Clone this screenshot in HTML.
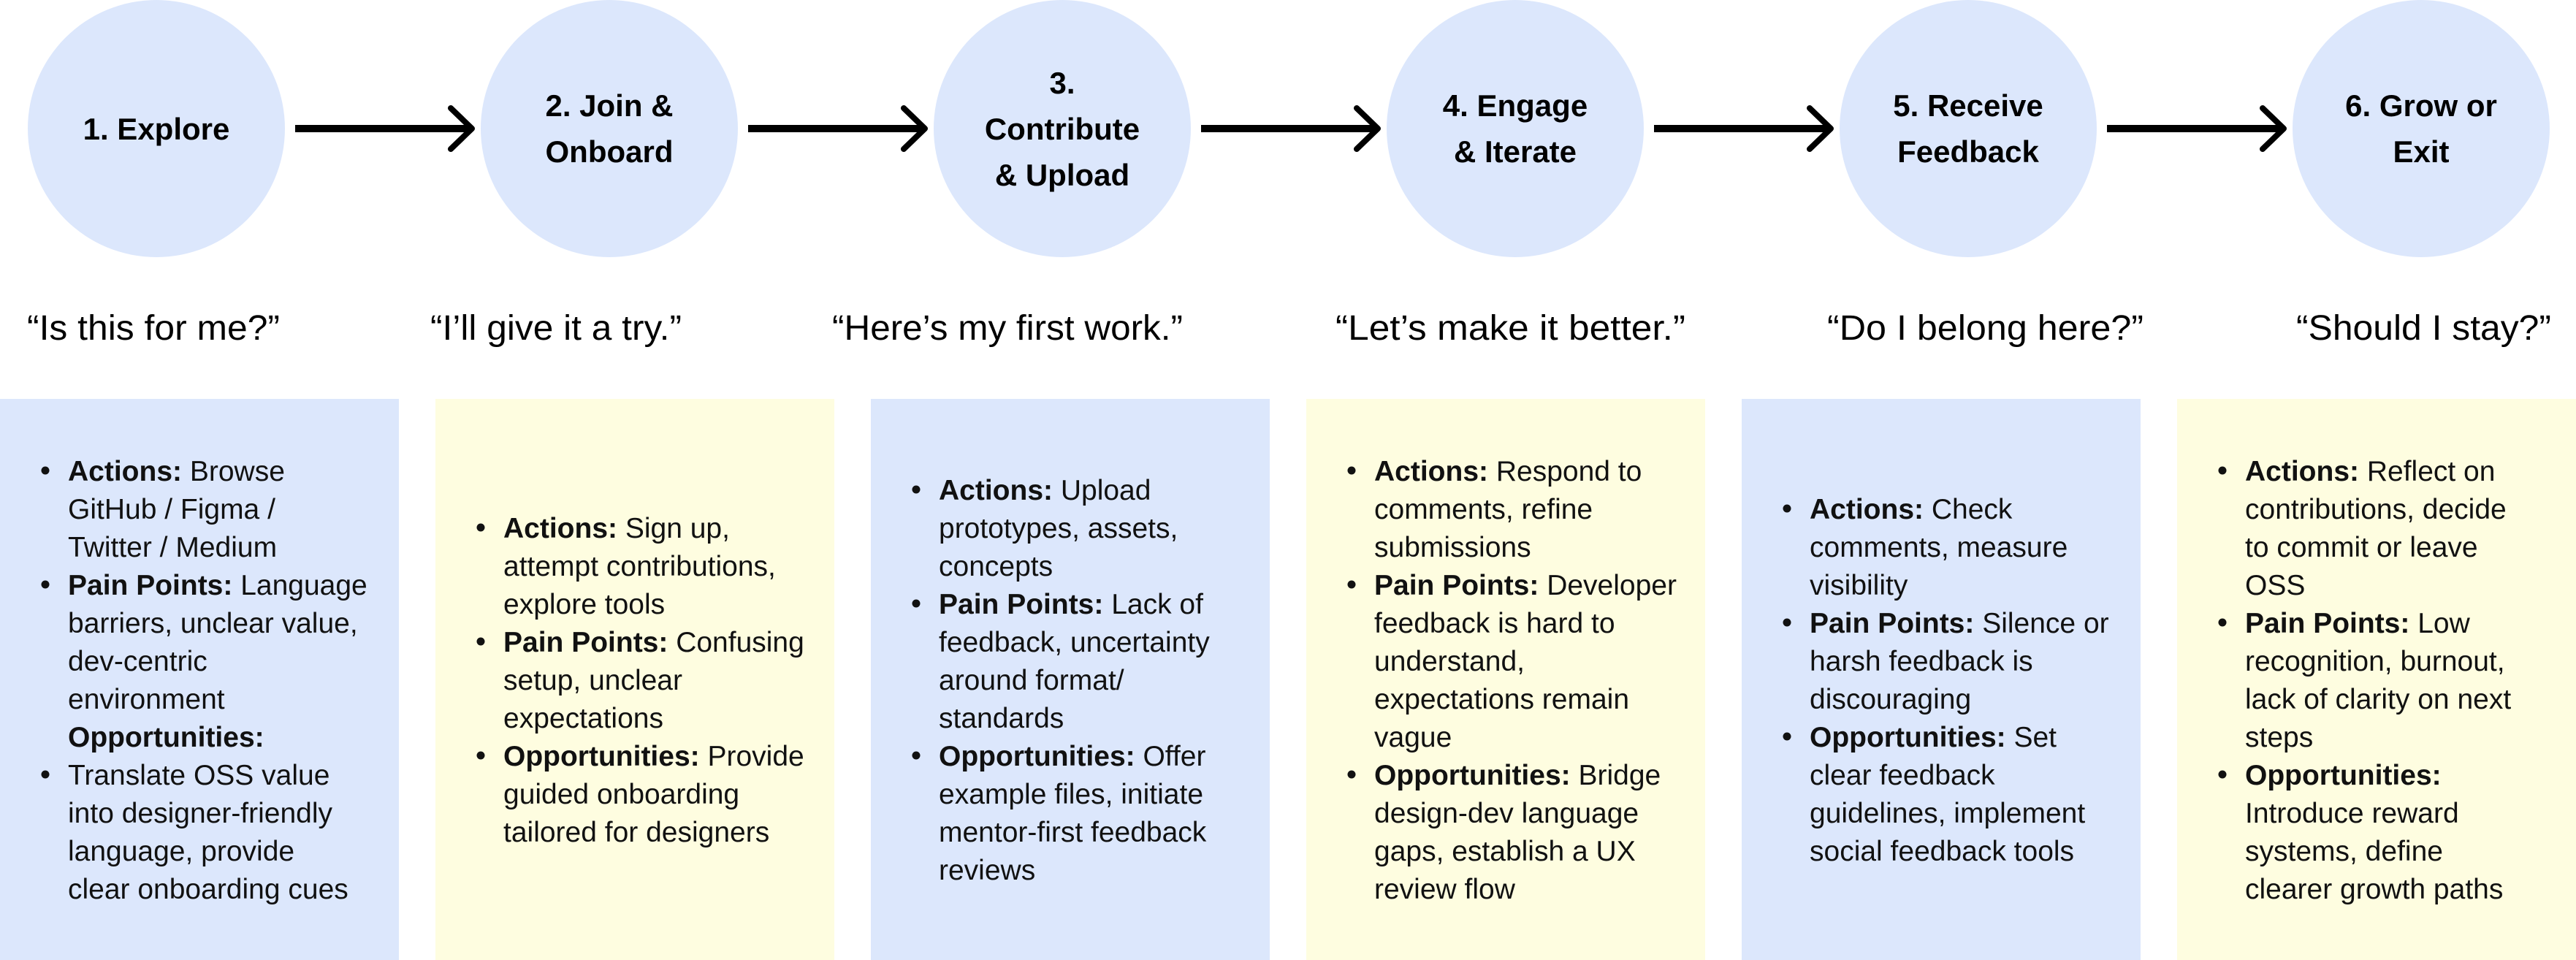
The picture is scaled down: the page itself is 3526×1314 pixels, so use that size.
<!DOCTYPE html>
<html><head><meta charset="utf-8"><style>
html,body{margin:0;padding:0;background:#fff;}
svg{display:block;}
.c{font-family:"Liberation Sans",sans-serif;font-weight:bold;font-size:42px;fill:#000;}
.q{font-family:"Liberation Sans",sans-serif;font-size:48px;fill:#000;}
.t{font-family:"Liberation Sans",sans-serif;font-size:39px;fill:#111;}
.b{font-weight:bold;}
</style></head><body>
<svg width="3526" height="1314" viewBox="0 0 3526 1314" xmlns="http://www.w3.org/2000/svg">
<g fill="#DCE7FC">
<circle cx="214" cy="176" r="176"/><circle cx="834" cy="176" r="176"/><circle cx="1454" cy="176" r="176"/>
<circle cx="2074" cy="176" r="176"/><circle cx="2694" cy="176" r="176"/><circle cx="3314" cy="176" r="176"/>
</g>
<g stroke="#000" fill="none" stroke-linecap="round" stroke-linejoin="round">
<g id="ar"><line x1="404" y1="176" x2="644" y2="176" stroke-width="10" stroke-linecap="butt"/><polyline points="617,148 646,176 617,204" stroke-width="8"/></g>
<use href="#ar" x="620"/><use href="#ar" x="1240"/><use href="#ar" x="1860"/><use href="#ar" x="2480"/>
</g>
<g class="c" text-anchor="middle">
<text x="214" y="191">1. Explore</text>
<text x="834" y="159">2. Join &amp;</text><text x="834" y="222">Onboard</text>
<text x="1454" y="128">3.</text><text x="1454" y="191">Contribute</text><text x="1454" y="254">&amp; Upload</text>
<text x="2074" y="159">4. Engage</text><text x="2074" y="222">&amp; Iterate</text>
<text x="2694" y="159">5. Receive</text><text x="2694" y="222">Feedback</text>
<text x="3314" y="159">6. Grow or</text><text x="3314" y="222">Exit</text>
</g>
<g class="q">
<text x="37" y="465" textLength="346" lengthAdjust="spacingAndGlyphs">“Is this for me?”</text>
<text x="589" y="465" textLength="344" lengthAdjust="spacingAndGlyphs">“I’ll give it a try.”</text>
<text x="1139" y="465" textLength="480" lengthAdjust="spacingAndGlyphs">“Here’s my first work.”</text>
<text x="1828" y="465" textLength="479" lengthAdjust="spacingAndGlyphs">“Let’s make it better.”</text>
<text x="2501" y="465" textLength="433" lengthAdjust="spacingAndGlyphs">“Do I belong here?”</text>
<text x="3143" y="465" textLength="349" lengthAdjust="spacingAndGlyphs">“Should I stay?”</text>
</g>
<rect x="0" y="546" width="546" height="768" fill="#DCE7FC"/>
<rect x="596" y="546" width="546" height="768" fill="#FEFDE0"/>
<rect x="1192" y="546" width="546" height="768" fill="#DCE7FC"/>
<rect x="1788" y="546" width="546" height="768" fill="#FEFDE0"/>
<rect x="2384" y="546" width="546" height="768" fill="#DCE7FC"/>
<rect x="2980" y="546" width="546" height="768" fill="#FEFDE0"/>

<g class="t" transform="translate(0,0)">
<circle cx="62" cy="644" r="5.5" fill="#111"/><circle cx="62" cy="800" r="5.5" fill="#111"/><circle cx="62" cy="1060" r="5.5" fill="#111"/>
<text x="93" y="658"><tspan class="b">Actions:</tspan> Browse</text>
<text x="93" y="710">GitHub / Figma /</text>
<text x="93" y="762">Twitter / Medium</text>
<text x="93" y="814"><tspan class="b">Pain Points:</tspan> Language</text>
<text x="93" y="866">barriers, unclear value,</text>
<text x="93" y="918">dev-centric</text>
<text x="93" y="970">environment</text>
<text x="93" y="1022"><tspan class="b">Opportunities:</tspan></text>
<text x="93" y="1074">Translate OSS value</text>
<text x="93" y="1126">into designer-friendly</text>
<text x="93" y="1178">language, provide</text>
<text x="93" y="1230">clear onboarding cues</text>
</g>
<g class="t" transform="translate(596,0)">
<circle cx="62" cy="722" r="5.5" fill="#111"/><circle cx="62" cy="878" r="5.5" fill="#111"/><circle cx="62" cy="1034" r="5.5" fill="#111"/>
<text x="93" y="736"><tspan class="b">Actions:</tspan> Sign up,</text>
<text x="93" y="788">attempt contributions,</text>
<text x="93" y="840">explore tools</text>
<text x="93" y="892"><tspan class="b">Pain Points:</tspan> Confusing</text>
<text x="93" y="944">setup, unclear</text>
<text x="93" y="996">expectations</text>
<text x="93" y="1048"><tspan class="b">Opportunities:</tspan> Provide</text>
<text x="93" y="1100">guided onboarding</text>
<text x="93" y="1152">tailored for designers</text>
</g>
<g class="t" transform="translate(1192,0)">
<circle cx="62" cy="670" r="5.5" fill="#111"/><circle cx="62" cy="826" r="5.5" fill="#111"/><circle cx="62" cy="1034" r="5.5" fill="#111"/>
<text x="93" y="684"><tspan class="b">Actions:</tspan> Upload</text>
<text x="93" y="736">prototypes, assets,</text>
<text x="93" y="788">concepts</text>
<text x="93" y="840"><tspan class="b">Pain Points:</tspan> Lack of</text>
<text x="93" y="892">feedback, uncertainty</text>
<text x="93" y="944">around format/</text>
<text x="93" y="996">standards</text>
<text x="93" y="1048"><tspan class="b">Opportunities:</tspan> Offer</text>
<text x="93" y="1100">example files, initiate</text>
<text x="93" y="1152">mentor-first feedback</text>
<text x="93" y="1204">reviews</text>
</g>
<g class="t" transform="translate(1788,0)">
<circle cx="62" cy="644" r="5.5" fill="#111"/><circle cx="62" cy="800" r="5.5" fill="#111"/><circle cx="62" cy="1060" r="5.5" fill="#111"/>
<text x="93" y="658"><tspan class="b">Actions:</tspan> Respond to</text>
<text x="93" y="710">comments, refine</text>
<text x="93" y="762">submissions</text>
<text x="93" y="814"><tspan class="b">Pain Points:</tspan> Developer</text>
<text x="93" y="866">feedback is hard to</text>
<text x="93" y="918">understand,</text>
<text x="93" y="970">expectations remain</text>
<text x="93" y="1022">vague</text>
<text x="93" y="1074"><tspan class="b">Opportunities:</tspan> Bridge</text>
<text x="93" y="1126">design-dev language</text>
<text x="93" y="1178">gaps, establish a UX</text>
<text x="93" y="1230">review flow</text>
</g>
<g class="t" transform="translate(2384,0)">
<circle cx="62" cy="696" r="5.5" fill="#111"/><circle cx="62" cy="852" r="5.5" fill="#111"/><circle cx="62" cy="1008" r="5.5" fill="#111"/>
<text x="93" y="710"><tspan class="b">Actions:</tspan> Check</text>
<text x="93" y="762">comments, measure</text>
<text x="93" y="814">visibility</text>
<text x="93" y="866"><tspan class="b">Pain Points:</tspan> Silence or</text>
<text x="93" y="918">harsh feedback is</text>
<text x="93" y="970">discouraging</text>
<text x="93" y="1022"><tspan class="b">Opportunities:</tspan> Set</text>
<text x="93" y="1074">clear feedback</text>
<text x="93" y="1126">guidelines, implement</text>
<text x="93" y="1178">social feedback tools</text>
</g>
<g class="t" transform="translate(2980,0)">
<circle cx="62" cy="644" r="5.5" fill="#111"/><circle cx="62" cy="852" r="5.5" fill="#111"/><circle cx="62" cy="1060" r="5.5" fill="#111"/>
<text x="93" y="658"><tspan class="b">Actions:</tspan> Reflect on</text>
<text x="93" y="710">contributions, decide</text>
<text x="93" y="762">to commit or leave</text>
<text x="93" y="814">OSS</text>
<text x="93" y="866"><tspan class="b">Pain Points:</tspan> Low</text>
<text x="93" y="918">recognition, burnout,</text>
<text x="93" y="970">lack of clarity on next</text>
<text x="93" y="1022">steps</text>
<text x="93" y="1074"><tspan class="b">Opportunities:</tspan></text>
<text x="93" y="1126">Introduce reward</text>
<text x="93" y="1178">systems, define</text>
<text x="93" y="1230">clearer growth paths</text>
</g>
</svg>
</body></html>
